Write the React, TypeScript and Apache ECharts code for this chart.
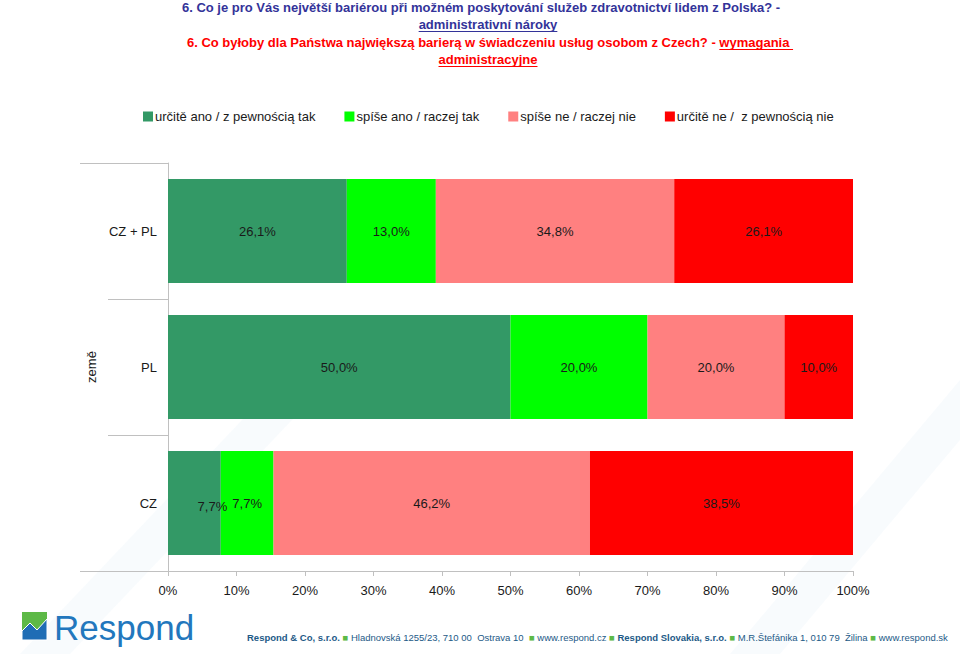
import React, { useEffect, useRef } from "react";
import * as echarts from "echarts";

const categories = ["CZ + PL", "PL", "CZ"];
const seriesNames = [
  "určitě ano / z pewnością tak",
  "spíše ano / raczej tak",
  "spíše ne / raczej nie",
  "určitě ne /  z pewnością nie",
];
const seriesColors = ["#339966", "#00FF00", "#FF8080", "#FF0000"];
const definitelyYes = [26.1, 50.0, 7.7];
const ratherYes = [13.0, 20.0, 7.7];
const ratherNo = [34.8, 20.0, 46.2];
const definitelyNo = [26.1, 10.0, 38.5];
const xTicks = [0, 10, 20, 30, 40, 50, 60, 70, 80, 90, 100];

const FONT = '"Liberation Sans", Arial, sans-serif';

function measure(text: string, font: string): number {
  const c = document.createElement("canvas").getContext("2d");
  if (!c) return text.length * 7;
  c.font = font;
  return c.measureText(text).width;
}

export default function App() {
  const ref = useRef<HTMLDivElement>(null);
  useEffect(() => {
    if (!ref.current) return;
    const chart = echarts.init(ref.current, undefined, { renderer: "svg" });
    const fmt = (v: number) => v.toFixed(1).replace(".", ",") + "%";

    const titleFont = `bold 13px ${FONT}`;
    const blue = "#333399";
    const red = "#FF0000";
    const l1 = "6. Co je pro Vás největší bariérou při možném poskytování služeb zdravotnictví lidem z Polska? -";
    const l2 = "administrativní nároky";
    const l3a = "6. Co byłoby dla Państwa największą barierą w świadczeniu usług osobom z Czech? - ";
    const l3b = "wymagania ";
    const l4 = "administracyjne";
    const w2 = measure(l2, titleFont);
    const w3a = measure(l3a, titleFont);
    const w3b = measure(l3b, titleFont);
    const w4 = measure(l4, titleFont);
    const cx = 488;
    const x3 = 490 - (w3a + w3b) / 2;

    const mkSeries = (name: string, data: number[], color: string, idx: number) => ({
      name,
      type: "bar",
      stack: "total",
      barCategoryGap: "23.5%",
      itemStyle: { color },
      label: {
        show: true,
        position: "inside",
        color: "#1a1a1a",
        fontSize: 13,
        fontFamily: FONT,
        formatter: (p: any) => fmt(p.value),
      },
      data: data.map((v, i) => {
        if (idx === 0 && categories[i] === "CZ") {
          return { value: v, label: { offset: [18, 3] } };
        }
        return v;
      }),
    });

    const footerText =
      "{b|Respond & Co, s.r.o.} {g|■} Hladnovská 1255/23, 710 00  Ostrava 10  {g|■} www.respond.cz {g|■} {b|Respond Slovakia, s.r.o.} {g|■} M.R.Štefánika 1, 010 79  Žilina {g|■} www.respond.sk";

    chart.setOption({
      animation: false,
      backgroundColor: "#FFFFFF",
      legend: {
        left: 138,
        top: 105,
        itemWidth: 10,
        itemHeight: 10,
        itemGap: 29,
        icon: "rect",
        textStyle: { fontSize: 13, fontFamily: FONT, color: "#1a1a1a", padding: [0, 0, 0, -3] },
        data: seriesNames,
      },
      grid: { left: 168, right: 107, top: 163, bottom: 83, containLabel: false },
      xAxis: {
        type: "value",
        min: 0,
        max: 100,
        interval: 10,
        axisLine: { show: true, lineStyle: { color: "#C0C0C0" } },
        axisTick: { show: true, length: 5, lineStyle: { color: "#C0C0C0" } },
        splitLine: { show: false },
        axisLabel: {
          formatter: (v: number) => (xTicks.includes(v) ? v + "%" : ""),
          fontSize: 13,
          fontFamily: FONT,
          color: "#1a1a1a",
          margin: 13,
        },
      },
      yAxis: {
        type: "category",
        data: categories,
        inverse: true,
        name: "země",
        nameLocation: "middle",
        nameRotate: 90,
        nameGap: 70,
        nameTextStyle: { fontSize: 13, fontFamily: FONT, color: "#1a1a1a" },
        axisLine: { show: true, lineStyle: { color: "#C0C0C0" } },
        axisTick: { show: true, inside: false, length: 60, lineStyle: { color: "#C0C0C0" } },
        axisLabel: { fontSize: 13, fontFamily: FONT, color: "#1a1a1a", margin: 11 },
      },
      series: [
        mkSeries(seriesNames[0], definitelyYes, seriesColors[0], 0),
        mkSeries(seriesNames[1], ratherYes, seriesColors[1], 1),
        mkSeries(seriesNames[2], ratherNo, seriesColors[2], 2),
        mkSeries(seriesNames[3], definitelyNo, seriesColors[3], 3),
      ],
      graphic: [
        // faint watermark bands
        {
          type: "polygon",
          z: -10,
          silent: true,
          shape: { points: [[20, 654], [70, 654], [330, 380], [280, 380]] },
          style: { fill: "#EEF4FB", opacity: 0.4 },
        },
        {
          type: "polygon",
          z: -10,
          silent: true,
          shape: { points: [[730, 654], [780, 654], [960, 440], [960, 380]] },
          style: { fill: "#EEF4FB", opacity: 0.4 },
        },
        // title
        { type: "text", x: 481, y: 7, style: { text: l1, font: titleFont, fill: blue, textAlign: "center", textVerticalAlign: "middle" } },
        { type: "text", x: cx, y: 24, style: { text: l2, font: titleFont, fill: blue, textAlign: "center", textVerticalAlign: "middle" } },
        { type: "line", shape: { x1: cx - w2 / 2, y1: 31.5, x2: cx + w2 / 2, y2: 31.5 }, style: { stroke: blue, lineWidth: 1 } },
        { type: "text", x: x3, y: 42, style: { text: l3a, font: titleFont, fill: red, textAlign: "left", textVerticalAlign: "middle" } },
        { type: "text", x: x3 + w3a, y: 42, style: { text: l3b, font: titleFont, fill: red, textAlign: "left", textVerticalAlign: "middle" } },
        { type: "line", shape: { x1: x3 + w3a, y1: 49.5, x2: x3 + w3a + w3b, y2: 49.5 }, style: { stroke: red, lineWidth: 1 } },
        { type: "text", x: cx, y: 59, style: { text: l4, font: titleFont, fill: red, textAlign: "center", textVerticalAlign: "middle" } },
        { type: "line", shape: { x1: cx - w4 / 2, y1: 66.5, x2: cx + w4 / 2, y2: 66.5 }, style: { stroke: red, lineWidth: 1 } },
        // extended top/bottom separators
        { type: "line", shape: { x1: 80, y1: 163.5, x2: 108, y2: 163.5 }, style: { stroke: "#C0C0C0", lineWidth: 1 } },
        { type: "line", shape: { x1: 80, y1: 571.5, x2: 108, y2: 571.5 }, style: { stroke: "#C0C0C0", lineWidth: 1 } },
        // logo
        { type: "rect", shape: { x: 22, y: 612, width: 25, height: 28 }, style: { fill: "#5DB946" } },
        {
          type: "polygon",
          shape: { points: [[22, 640], [22, 631], [30, 623], [37, 630], [47, 619], [47, 640]] },
          style: { fill: "#1F6DB5", stroke: "#FFFFFF", lineWidth: 1 },
        },
        {
          type: "text",
          x: 54,
          y: 627,
          style: { text: "Respond", font: `35px ${FONT}`, fill: "#2277BD", textAlign: "left", textVerticalAlign: "middle" },
        },
        // footer
        {
          type: "text",
          x: 247,
          y: 637,
          style: {
            text: footerText,
            font: `9.5px ${FONT}`,
            fill: "#1D5A87",
            textAlign: "left",
            textVerticalAlign: "middle",
            rich: {
              b: { fontWeight: "bold", fontSize: 9.5, fontFamily: FONT, fill: "#1D5A87" },
              g: { fontSize: 9.5, fontFamily: FONT, fill: "#5DB946" },
            },
          },
        },
      ],
    });
    return () => chart.dispose();
  }, []);
  return (
    <div
      ref={ref}
      style={{ position: "absolute", left: 0, top: 0, width: 960, height: 654, background: "#fff" }}
    />
  );
}
